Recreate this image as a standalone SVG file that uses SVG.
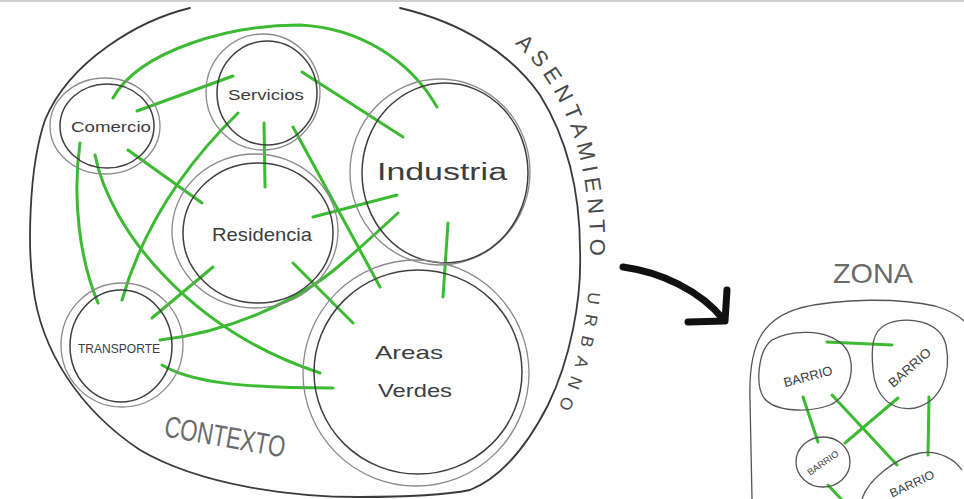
<svg xmlns="http://www.w3.org/2000/svg" width="964" height="499" viewBox="0 0 964 499">
<defs>
<style>
.bg{fill:#fefefe}
.outer{fill:none;stroke:#3a3a3a;stroke-width:1.8;stroke-linecap:round}
.ringA{fill:none;stroke:#8a8a8a;stroke-width:1.3}
.ringB{fill:none;stroke:#3f3f3f;stroke-width:1.5}
.thin{fill:none;stroke:#555;stroke-width:1.3}
.g{fill:none;stroke:#3cba32;stroke-width:3;stroke-linecap:round}
.lbl{font-family:"Liberation Sans","DejaVu Sans",sans-serif;fill:#3d3d3d;text-anchor:middle}
.big{font-family:"Liberation Sans","DejaVu Sans",sans-serif;fill:#6a6a6a;text-anchor:middle}
.side{font-family:"Liberation Sans","DejaVu Sans",sans-serif;fill:#4a4a4a}
</style>
<path id="sidePath" d="M 510 40 C 560 80, 590 150, 590 250 C 590 320, 578 368, 556 412"/>
</defs>
<rect class="bg" x="0" y="0" width="964" height="499"/>
<line x1="0" y1="1" x2="964" y2="1" stroke="#cfcfcf" stroke-width="2"/>

<g id="contexto">
<path class="outer" d="M 190 8 C 140 20, 70 60, 45 120 C 28 170, 28 250, 33 285 C 40 350, 80 410, 140 450 C 200 485, 290 497, 360 497 C 410 497, 450 494, 470 490 C 500 478, 525 450, 548 405 C 570 360, 582 300, 580 250 C 580 190, 568 140, 540 95 C 510 52, 460 22, 400 8"/>
<text class="big" x="225" y="447" font-size="30" textLength="122" lengthAdjust="spacingAndGlyphs" transform="rotate(10 225 437)">CONTEXTO</text>
<text class="side" font-size="22" letter-spacing="5.5"><textPath href="#sidePath" startOffset="6">ASENTAMIENTO</textPath></text>
<text class="side" font-size="17" letter-spacing="9.5"><textPath href="#sidePath" startOffset="274">URBANO</textPath></text>
</g>

<g id="connectors">
<path class="g" d="M 113 98 C 140 50, 230 25, 300 25 C 360 28, 410 60, 437 107"/>
<path class="g" d="M 137 111 L 233 76"/>
<path class="g" d="M 238 113 C 190 160, 145 220, 122 300"/>
<path class="g" d="M 264 123 L 265 187"/>
<path class="g" d="M 302 72 L 403 137"/>
<path class="g" d="M 293 127 L 380 287"/>
<path class="g" d="M 128 150 L 202 203"/>
<path class="g" d="M 80 143 C 72 200, 80 260, 98 303"/>
<path class="g" d="M 95 155 C 110 230, 190 330, 320 373"/>
<path class="g" d="M 213 267 L 152 318"/>
<path class="g" d="M 160 340 C 230 332, 300 300, 340 265 C 360 248, 385 225, 398 213"/>
<path class="g" d="M 313 217 L 397 195"/>
<path class="g" d="M 293 263 L 353 323"/>
<path class="g" d="M 448 223 L 443 297"/>
<path class="g" d="M 162 365 C 190 382, 240 388, 333 388"/>
<path class="g" d="M 827 342 L 892 345"/>
<path class="g" d="M 803 397 L 818 442"/>
<path class="g" d="M 845 443 L 898 398"/>
<path class="g" d="M 832 395 L 897 465"/>
<path class="g" d="M 929 397 L 928 455"/>
<path class="g" d="M 828 485 L 842 500"/>
</g>

<g id="comercio">
<ellipse class="ringA" cx="105" cy="126" rx="55" ry="48"/>
<ellipse class="ringB" cx="107" cy="126" rx="47" ry="42"/>
<text class="lbl" x="111" y="132" font-size="15" textLength="80" lengthAdjust="spacingAndGlyphs">Comercio</text>
</g>

<g id="servicios">
<ellipse class="ringA" cx="263" cy="92" rx="57" ry="58"/>
<ellipse class="ringB" cx="267" cy="93" rx="50" ry="52"/>
<text class="lbl" x="266" y="100" font-size="15" textLength="76" lengthAdjust="spacingAndGlyphs">Servicios</text>
</g>

<g id="residencia">
<ellipse class="ringA" cx="255" cy="231" rx="83" ry="77"/>
<ellipse class="ringB" cx="258" cy="233" rx="75" ry="70"/>
<text class="lbl" x="262" y="241" font-size="19" textLength="100" lengthAdjust="spacingAndGlyphs">Residencia</text>
</g>

<g id="industria">
<ellipse class="ringA" cx="440" cy="172" rx="90" ry="93"/>
<ellipse class="ringB" cx="445" cy="173" rx="83" ry="90"/>
<text class="lbl" x="442" y="180" font-size="23" textLength="130" lengthAdjust="spacingAndGlyphs">Industria</text>
</g>

<g id="areas-verdes">
<ellipse class="ringA" cx="416" cy="373" rx="113" ry="113"/>
<ellipse class="ringB" cx="418" cy="372" rx="104" ry="102"/>
<text class="lbl" x="409" y="359" font-size="19" textLength="68" lengthAdjust="spacingAndGlyphs">Areas</text>
<text class="lbl" x="415" y="397" font-size="19" textLength="74" lengthAdjust="spacingAndGlyphs">Verdes</text>
</g>

<g id="transporte">
<ellipse class="ringA" cx="122" cy="345" rx="61" ry="62"/>
<ellipse class="ringB" cx="121" cy="346" rx="51" ry="56"/>
<text class="lbl" x="119" y="353" font-size="13" textLength="82" lengthAdjust="spacingAndGlyphs">TRANSPORTE</text>
</g>

<g id="flecha">
<path d="M 623 267 C 660 272, 700 290, 724 320" fill="none" stroke="#111" stroke-width="7" stroke-linecap="round"/>
<path d="M 727 290 L 725 321 L 688 322" fill="none" stroke="#111" stroke-width="7" stroke-linecap="round" stroke-linejoin="round"/>
</g>

<g id="zona">
<text class="big" x="873" y="283" font-size="28" textLength="80" lengthAdjust="spacingAndGlyphs" fill="#555">ZONA</text>
<path class="thin" d="M 752 499 L 750 400 C 748 340, 765 318, 800 308 C 840 298, 900 298, 935 306 C 955 312, 964 320, 968 325"/>
</g>

<g id="barrio1">
<path class="thin" d="M 772 340 C 790 330, 825 328, 843 345 C 858 360, 852 395, 830 405 C 808 413, 775 412, 764 398 C 755 385, 758 350, 772 340 Z"/>
<text class="lbl" x="808" y="381" font-size="13" textLength="50" lengthAdjust="spacingAndGlyphs" transform="rotate(-15 808 377)">BARRIO</text>
</g>

<g id="barrio2">
<path class="thin" d="M 885 325 C 905 315, 940 320, 946 345 C 952 375, 940 402, 915 408 C 890 412, 875 395, 873 370 C 871 348, 872 332, 885 325 Z"/>
<text class="lbl" x="910" y="372" font-size="13" textLength="52" lengthAdjust="spacingAndGlyphs" transform="rotate(-42 910 368)">BARRIO</text>
</g>

<g id="barrio3">
<ellipse class="thin" cx="823" cy="462" rx="27" ry="25"/>
<text class="lbl" x="823" y="466" font-size="9" textLength="36" lengthAdjust="spacingAndGlyphs" transform="rotate(-35 823 463)">BARRIO</text>
</g>

<g id="barrio4">
<path class="thin" d="M 862 499 C 868 480, 895 458, 920 453 C 940 450, 955 460, 962 470"/>
<text class="lbl" x="912" y="488" font-size="12" textLength="48" lengthAdjust="spacingAndGlyphs" transform="rotate(-25 912 484)">BARRIO</text>
</g>
</svg>
